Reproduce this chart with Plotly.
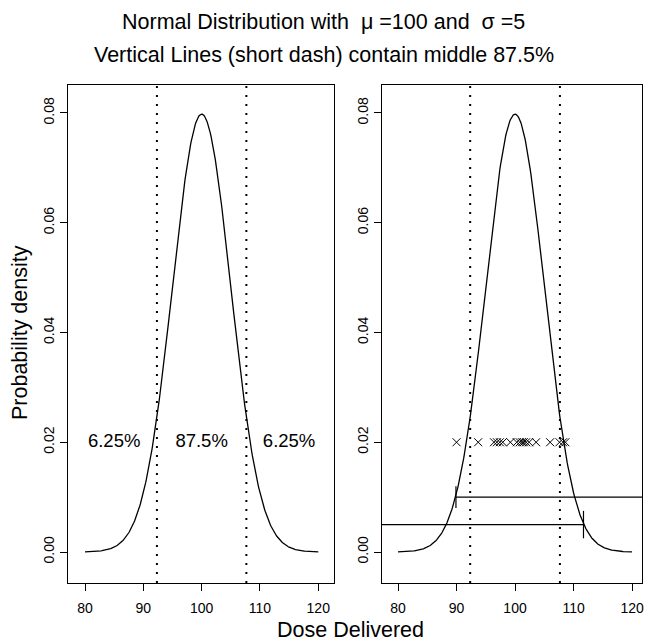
import numpy as np
import plotly.graph_objects as go

# distribution shown in both panels
mu = 100
sigma = 5
x_min, x_max = 80, 120
cut_lower = 92.33   # 6.25% quantile
cut_upper = 107.67  # 93.75% quantile

# left panel labels
pct_labels = ["6.25%", "87.5%", "6.25%"]
pct_x = [85, 100, 115]
pct_y = [0.02, 0.02, 0.02]

doses = [90.0, 93.7, 96.4, 96.9, 97.4, 97.9, 99.2, 100.3, 100.8, 101.2,
         101.5, 101.9, 102.4, 103.6, 106.0, 107.6, 108.2, 108.6]
dose_y = 0.02

# one-sided limits drawn on the right panel
lower_limit, lower_level = 89.9, 0.010
upper_limit, upper_level = 111.7, 0.005

x_ticks = [80, 90, 100, 110, 120]
y_ticks = [0.00, 0.02, 0.04, 0.06, 0.08]
y_ticktext = ["0.00", "0.02", "0.04", "0.06", "0.08"]

xs = np.linspace(x_min, x_max, 401)
dens = np.exp(-0.5 * ((xs - mu) / sigma) ** 2) / (sigma * np.sqrt(2 * np.pi))

FONT = "Liberation Sans, Arial, sans-serif"
W, H = 648, 643

fig = go.Figure()

for xa, ya in [("x", "y"), ("x2", "y2")]:
    fig.add_trace(go.Scatter(x=xs, y=dens, mode="lines", xaxis=xa, yaxis=ya,
                             line=dict(color="black", width=1.3), showlegend=False))

fig.add_trace(go.Scatter(x=pct_x, y=pct_y, mode="text", text=pct_labels,
                         textfont=dict(family=FONT, size=18.5, color="black"),
                         xaxis="x", yaxis="y", showlegend=False))

fig.add_trace(go.Scatter(x=doses, y=[dose_y] * len(doses), mode="markers",
                         xaxis="x2", yaxis="y2", showlegend=False,
                         marker=dict(symbol="x-thin", size=8,
                                     line=dict(color="black", width=1))))

# lower limit line going off to the right, upper limit line coming in from the left
fig.add_trace(go.Scatter(x=[lower_limit, 130], y=[lower_level, lower_level], mode="lines",
                         xaxis="x2", yaxis="y2", showlegend=False,
                         line=dict(color="black", width=1.2)))
fig.add_trace(go.Scatter(x=[lower_limit, lower_limit], y=[lower_level - 0.002, lower_level + 0.002],
                         mode="lines", xaxis="x2", yaxis="y2", showlegend=False,
                         line=dict(color="black", width=1.2)))
fig.add_trace(go.Scatter(x=[70, upper_limit], y=[upper_level, upper_level], mode="lines",
                         xaxis="x2", yaxis="y2", showlegend=False,
                         line=dict(color="black", width=1.2)))
fig.add_trace(go.Scatter(x=[upper_limit, upper_limit], y=[upper_level - 0.0025, upper_level + 0.0025],
                         mode="lines", xaxis="x2", yaxis="y2", showlegend=False,
                         line=dict(color="black", width=1.2)))

# dotted cut lines
for xr, yr in [("x", "y domain"), ("x2", "y2 domain")]:
    for c in [cut_lower, cut_upper]:
        fig.add_shape(type="line", xref=xr, yref=yr, x0=c, x1=c, y0=0, y1=1,
                      line=dict(color="black", width=2, dash="2px,7px"))

axis_common = dict(showline=True, mirror=True, linecolor="black", linewidth=1,
                   ticks="outside", ticklen=7, tickcolor="black", showgrid=False,
                   zeroline=False, automargin=False, ticklabeloverflow="allow",
                   tickfont=dict(family=FONT, size=14, color="black"))

y_dom = [60 / H, 558 / H]
fig.update_layout(
    width=W, height=H,
    margin=dict(l=0, r=0, t=0, b=0),
    plot_bgcolor="white", paper_bgcolor="white",
    xaxis=dict(domain=[68 / W, 334 / W], range=[77.08, 122.7], tickvals=x_ticks,
               anchor="y", ticklabelstandoff=5, **axis_common),
    yaxis=dict(domain=y_dom, range=[-0.00565, 0.0851], tickvals=y_ticks,
               ticktext=y_ticktext, tickangle=-90, anchor="x", **axis_common),
    xaxis2=dict(domain=[382 / W, 642 / W], range=[77.26, 121.7], tickvals=x_ticks,
                anchor="y2", ticklabelstandoff=5, **axis_common),
    yaxis2=dict(domain=y_dom, range=[-0.00565, 0.0851], tickvals=y_ticks,
                ticktext=y_ticktext, tickangle=-90, anchor="x2", **axis_common),
)

notes = [
    ("Normal Distribution with  \u03bc =100 and  \u03c3 =5", 323, 22, 0),
    ("Vertical Lines (short dash) contain middle 87.5%", 324, 55, 0),
    ("Probability density", 20, 333, -90),
    ("Dose Delivered", 350, 630, 0),
]
for txt, px, py, ang in notes:
    fig.add_annotation(text=txt, x=px / W, y=1 - py / H, xref="paper", yref="paper",
                       xanchor="center", yanchor="middle", textangle=ang, showarrow=False,
                       font=dict(family=FONT, size=21.5, color="black"))

# drop the default 8px page margin so the 648x643 figure fills the window exactly
fig.write_html("out.html", config={"displayModeBar": False},
               post_script="document.body.style.margin = '0';")
